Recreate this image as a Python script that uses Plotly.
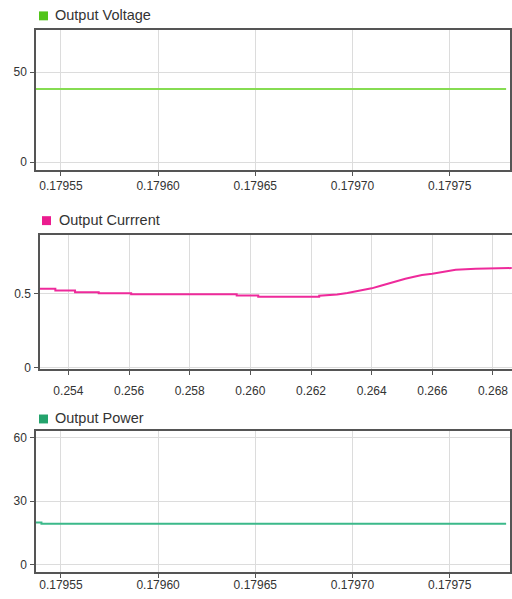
import plotly.graph_objects as go

W, H = 512, 599

# ---- data ----
voltage_t = [0.179537, 0.179779]
voltage_v = [40.7, 40.7]

# Current: stepped plateau, then a gradual rise with small notches
current_t = [0.25306, 0.25357, 0.25357, 0.25422, 0.25422, 0.25500, 0.25500,
             0.25607, 0.25607, 0.25955, 0.25955, 0.26026, 0.26026, 0.26227,
             0.26227, 0.26286, 0.26320, 0.26354, 0.26380, 0.26400, 0.26430,
             0.26457, 0.26485, 0.26511, 0.26540, 0.26566, 0.26600, 0.26633,
             0.26677, 0.26743, 0.26862]
current_v = [0.533, 0.533, 0.520, 0.520, 0.509, 0.509, 0.502,
             0.502, 0.495, 0.495, 0.487, 0.487, 0.478, 0.478,
             0.485, 0.493, 0.503, 0.516, 0.525, 0.535, 0.552,
             0.569, 0.585, 0.600, 0.613, 0.625, 0.634, 0.647,
             0.661, 0.667, 0.672]

power_t = [0.179537, 0.179540, 0.179779]
power_v = [19.9, 19.3, 19.3]

titles = ["Output Voltage", "Output Currrent", "Output Power"]
colors = ["#52c41a", "#eb1c8f", "#23a36c"]
line_colors = ["#86dc52", "#ee2a9b", "#3bb98a"]

FONT = "Liberation Sans, Arial, sans-serif"


def px(x):
    return x / W


def py(y):
    return 1 - y / H


fig = go.Figure()
fig.add_trace(go.Scatter(x=voltage_t, y=voltage_v, mode="lines", line=dict(color=line_colors[0], width=2),
                         xaxis="x", yaxis="y", showlegend=False))
fig.add_trace(go.Scatter(x=current_t, y=current_v, mode="lines", line=dict(color=line_colors[1], width=2),
                         xaxis="x2", yaxis="y2", showlegend=False))
fig.add_trace(go.Scatter(x=power_t, y=power_v, mode="lines", line=dict(color=line_colors[2], width=2, shape="hv"),
                         xaxis="x3", yaxis="y3", showlegend=False))

common = dict(showline=True, linecolor="#555", linewidth=1.5, ticks="outside", ticklen=4,
              tickcolor="#555", showgrid=True, gridcolor="#dcdcdc", zeroline=False,
              tickfont=dict(family=FONT, size=12, color="#333"))

fig.update_layout(
    width=W, height=H, margin=dict(l=0, r=0, t=0, b=0),
    paper_bgcolor="white", plot_bgcolor="white",
    xaxis=dict(domain=[px(36), px(510)], anchor="y", range=[0.1795372, 0.179781],
               tickvals=[0.17955, 0.17960, 0.17965, 0.17970, 0.17975], tickformat=".5f",
               mirror=True, ticklabelstandoff=0, **common),
    yaxis=dict(domain=[py(171.5), py(30)], anchor="x", range=[-4.4, 73.6],
               tickvals=[0, 50], mirror=True, ticklabelstandoff=1, **common),
    xaxis2=dict(domain=[px(40), 1.0], anchor="y2", range=[0.253064, 0.268628],
                tickvals=[0.254, 0.256, 0.258, 0.260, 0.262, 0.264, 0.266, 0.268], tickformat=".3f",
                mirror=True, ticklabelstandoff=5, **common),
    yaxis2=dict(domain=[py(372.5), py(237)], anchor="x2", range=[-0.012, 0.895],
                tickvals=[0, 0.5], ticktext=["0", "0.5"], mirror=False, ticklabelstandoff=1, **common),
    xaxis3=dict(domain=[px(36), px(510)], anchor="y3", range=[0.1795372, 0.179781],
                tickvals=[0.17955, 0.17960, 0.17965, 0.17970, 0.17975], tickformat=".5f",
                mirror=True, ticklabelstandoff=-3, **common),
    yaxis3=dict(domain=[py(576.7), py(435)], anchor="x3", range=[-3.5, 63.1],
                tickvals=[0, 30, 60], mirror=True, ticklabelstandoff=1, **common),
)

# Panel headers: coloured square plus label
headers = [(39, 11.5, 53, 15.5), (42, 218, 57, 222), (39, 418, 53, 422)]
shapes = []
annotations = []
for (sx, sy, tx, ty), title, col in zip(headers, titles, colors):
    shapes.append(dict(type="rect", xref="paper", yref="paper",
                       x0=px(sx), x1=px(sx + 9), y0=py(sy + 9), y1=py(sy),
                       fillcolor=col, line=dict(width=0)))
    annotations.append(dict(text=title, xref="paper", yref="paper", x=px(tx), y=py(ty),
                            xanchor="left", yanchor="middle", showarrow=False,
                            font=dict(family=FONT, size=14.5, color="#333")))
fig.update_layout(shapes=shapes, annotations=annotations)

fig.write_html("out.html")
